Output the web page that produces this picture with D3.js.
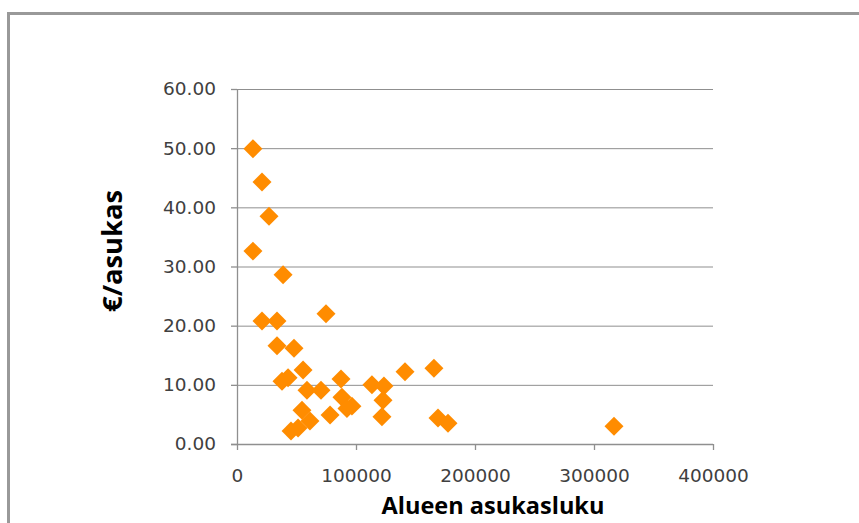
<!DOCTYPE html>
<html>
<head>
<meta charset="utf-8">
<script src="https://cdn.jsdelivr.net/npm/d3@7/dist/d3.min.js"></script>
<style>
  html, body { margin: 0; padding: 0; background: #fff; }
  svg { display: block; }
</style>
</head>
<body>
<svg id="chart" width="859" height="523"></svg>
<script>
// Data
const population = [13400, 21000, 26900, 13400, 38700, 74800, 21000, 33600, 33600, 47900,
                    55500, 37800, 42900, 58800, 70600, 87400, 88200, 96600, 92400, 78200,
                    54600, 61300, 51300, 45400, 113400, 123500, 122700, 121800, 141200, 165500,
                    168900, 177300, 316800];
const eurPerResident = [49.9, 44.3, 38.5, 32.6, 28.6, 22.0, 20.8, 20.8, 16.6, 16.2,
                        12.5, 10.6, 11.2, 9.1, 9.1, 11.0, 7.9, 6.4, 6.0, 4.9,
                        5.7, 3.9, 2.7, 2.2, 10.0, 9.8, 7.4, 4.6, 12.2, 12.8,
                        4.4, 3.5, 3.0];
const xTickValues = [0, 100000, 200000, 300000, 400000];
const yTickValues = [0, 10, 20, 30, 40, 50, 60];
const xTitle = "Alueen asukasluku";
const yTitle = "€/asukas";

const svg = d3.select("#chart");
const gridColor = "#8f8f8f";
const tickTextColor = "#404040";

// Outer chart border (left and top visible in reference)
svg.append("path")
  .attr("d", "M8.5,530 L8.5,13.5 L870,13.5")
  .attr("fill", "none")
  .attr("stroke", "#999")
  .attr("stroke-width", 3);

const x = d3.scaleLinear().domain([0, 400000]).range([237, 713]);
const y = d3.scaleLinear().domain([0, 60]).range([444, 89]);

// Gridlines
svg.append("g")
  .attr("transform", `translate(${x(0)},0)`)
  .call(d3.axisLeft(y).tickValues(yTickValues.filter(v => v > 0))
        .tickSize(-(x(400000) - x(0))).tickFormat(""))
  .call(g => g.select(".domain").remove())
  .call(g => g.selectAll("line").attr("stroke", gridColor).attr("stroke-width", 1));

// Y axis
const yAxis = svg.append("g")
  .attr("transform", `translate(${x(0)},0)`)
  .call(d3.axisLeft(y).tickValues(yTickValues).tickSize(6).tickSizeOuter(0)
        .tickPadding(15).tickFormat(d3.format(".2f")));
yAxis.select(".domain").attr("stroke", gridColor).attr("stroke-width", 1.3);
yAxis.selectAll("line").attr("stroke", gridColor).attr("stroke-width", 1.3);
yAxis.selectAll("text")
  .attr("fill", tickTextColor)
  .style("font-family", "'DejaVu Sans', Verdana, sans-serif")
  .style("font-size", "18.5px");

// X axis
const xAxis = svg.append("g")
  .attr("transform", `translate(0,${y(0)})`)
  .call(d3.axisBottom(x).tickValues(xTickValues).tickSize(6).tickSizeOuter(0)
        .tickFormat(d3.format("d")));
xAxis.select(".domain").attr("stroke", gridColor).attr("stroke-width", 1.3)
  .attr("d", `M${x(0) - 6},0.5H${x(400000)}`);
xAxis.selectAll("line").attr("stroke", gridColor).attr("stroke-width", 1.3);
xAxis.selectAll("text")
  .attr("fill", tickTextColor)
  .attr("y", 38).attr("dy", "0")
  .style("font-family", "'DejaVu Sans', Verdana, sans-serif")
  .style("font-size", "18.5px");

// Axis titles, fitted to the reference's measured lengths
function fitText(sel, targetLen) {
  sel.style("font-size", "100px");
  const len = sel.node().getComputedTextLength();
  sel.style("font-size", (100 * targetLen / len) + "px");
}
const xt = svg.append("text")
  .attr("x", 493).attr("y", 514)
  .attr("text-anchor", "middle")
  .attr("fill", "#000")
  .style("font-family", "'Open Sans', sans-serif")
  .style("font-weight", "bold")
  .text(xTitle);
fitText(xt, 223);

const yt = svg.append("text")
  .attr("transform", "translate(122,251) rotate(-90)")
  .attr("text-anchor", "middle")
  .attr("fill", "#000")
  .style("font-family", "'Open Sans', sans-serif")
  .style("font-weight", "bold")
  .text(yTitle);
fitText(yt, 122);

// Points: orange diamonds
const diamond = d3.symbol().type(d3.symbolSquare).size(180);
svg.append("g")
  .selectAll("path")
  .data(population.map((p, i) => [p, eurPerResident[i]]))
  .join("path")
  .attr("d", diamond)
  .attr("transform", d => `translate(${x(d[0])},${y(d[1])}) rotate(45)`)
  .attr("fill", "#ff8c00");
</script>
</body>
</html>
